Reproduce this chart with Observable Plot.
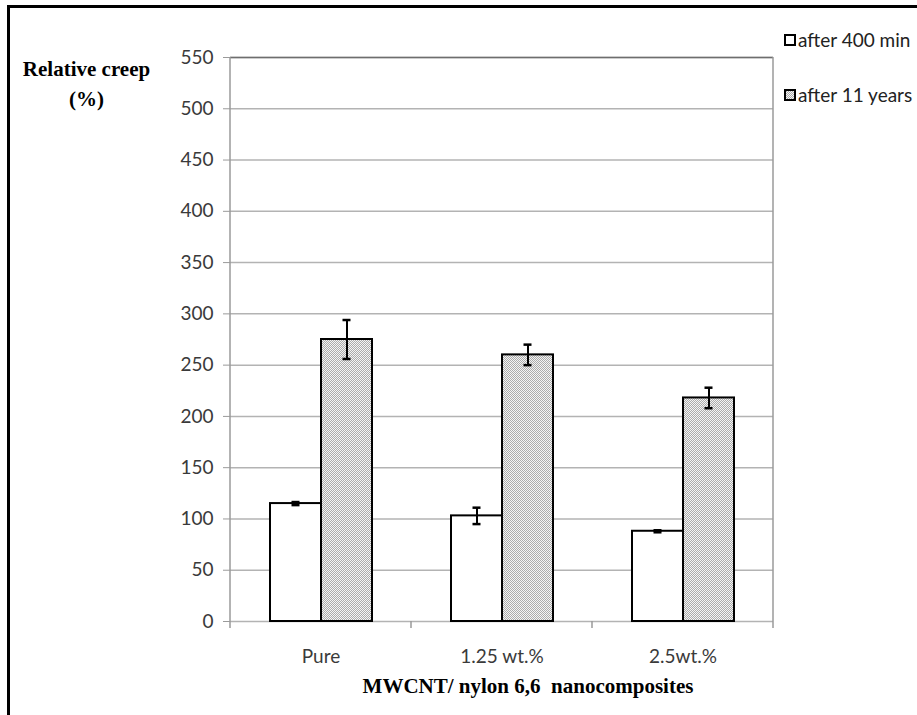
<!DOCTYPE html>
<html><head><meta charset="utf-8">
<script src="https://cdn.jsdelivr.net/npm/d3@7"></script>
<script src="https://cdn.jsdelivr.net/npm/@observablehq/plot@0.6"></script>
<style>
html,body{margin:0;padding:0;background:#fff;}
#wrap{position:relative;width:917px;height:715px;overflow:hidden;background:#fff;}
#frame{position:absolute;left:7px;top:5px;right:-10px;bottom:-10px;border-top:3px solid #000;border-left:3px solid #000;pointer-events:none;}
#chart{position:absolute;left:0;top:0;}
.serif{position:absolute;font-family:"Liberation Serif","Times New Roman",serif;font-weight:bold;color:#000;white-space:pre;}
.leg{position:absolute;font-family:Lato,"Open Sans",sans-serif;font-size:19px;color:#222;white-space:pre;display:flex;align-items:center;line-height:22px;}
.leg svg{margin-right:2px;}
#chart svg [aria-label="y-axis tick"] path,#chart svg [aria-label="y-axis"] line{stroke:#9a9a9a;}
</style>
</head><body>
<div id="wrap">
  <div id="chart"></div>
  <div id="frame"></div>
  <div class="serif" id="ytitle" style="left:0;width:173px;top:54px;font-size:21px;line-height:30px;text-align:center;">Relative creep
(%)</div>
  <div class="serif" id="xtitle" style="left:528px;top:674px;font-size:21px;transform:translateX(-50%);">MWCNT/ nylon 6,6  nanocomposites</div>
  <div id="legend"></div>
</div>
<script>
// ---- data ----
const groups = ["Pure", "1.25 wt.%", "2.5wt.%"];
const series = ["after 400 min", "after 11 years"];
const after400 = [115, 103, 88];
const err400 = [1.5, 8, 1];
const after11y = [275, 260, 218];
const err11y = [19, 10, 10];
const yTicks = [0, 50, 100, 150, 200, 250, 300, 350, 400, 450, 500, 550];

const rows = [];
groups.forEach((g, i) => {
  rows.push({group: g, series: series[0], value: after400[i], err: err400[i]});
  rows.push({group: g, series: series[1], value: after11y[i], err: err11y[i]});
});

const plot = Plot.plot({
  width: 917, height: 715,
  marginLeft: 229, marginRight: 143, marginTop: 57, marginBottom: 94,
  style: {fontFamily: "Lato, 'Open Sans', sans-serif", fontSize: "19px", color: "#3a3a3a", background: "transparent", overflow: "visible"},
  facet: {data: rows, x: "group"},
  fx: {domain: groups, padding: 0, label: null, tickSize: 0, tickPadding: 28},
  x: {domain: series, paddingInner: 0, paddingOuter: 0.747, axis: null},
  y: {domain: [0, 550], ticks: yTicks, tickSize: 7, tickPadding: 10, label: null},
  color: {type: "ordinal", domain: series, range: ["#ffffff", "url(#dots)"]},
  marks: [
    Plot.ruleY(yTicks, {stroke: "#b3b3b3", strokeWidth: 1.5}),
    Plot.ruleY([550], {stroke: "#6e6e6e", strokeWidth: 1.5}),
    Plot.barY(rows, {x: "series", y: "value", fill: "series", stroke: "#000", strokeWidth: 2}),
    Plot.ruleX(rows, {x: "series", y1: d => d.value - d.err, y2: d => d.value + d.err, stroke: "#000", strokeWidth: 2}),
    Plot.tickY(rows, {x: "series", y: d => d.value + d.err, stroke: "#000", strokeWidth: 2.5, insetLeft: 21.5, insetRight: 21.5}),
    Plot.tickY(rows, {x: "series", y: d => d.value - d.err, stroke: "#000", strokeWidth: 2.5, insetLeft: 21.5, insetRight: 21.5})
  ]
});
document.getElementById("chart").appendChild(plot);

// pattern for the "after 11 years" bars
const svg = d3.select(plot);
const defs = svg.insert("defs", ":first-child");
const pat = defs.append("pattern").attr("id", "dots").attr("width", 2).attr("height", 2).attr("patternUnits", "userSpaceOnUse");
pat.append("rect").attr("width", 2).attr("height", 2).attr("fill", "#f4f4f4");
pat.append("rect").attr("x", 0).attr("y", 0).attr("width", 1).attr("height", 1).attr("fill", "#ababab");
pat.append("rect").attr("x", 1).attr("y", 1).attr("width", 1).attr("height", 1).attr("fill", "#ababab");

// plot-area side lines and group boundary ticks, from the scales
const fx = plot.scale("fx"), y = plot.scale("y");
const bw = fx.bandwidth != null ? fx.bandwidth : (fx.range[1] - fx.range[0]) / groups.length;
const starts = groups.map(g => fx.apply(g));
const bounds = [...starts, starts[starts.length - 1] + bw];
const y0 = y.apply(0), yTop = y.apply(550);
const gl = svg.append("g");
bounds.forEach((bx, i) => {
  const outer = i === 0 || i === bounds.length - 1;
  gl.append("line").attr("x1", bx).attr("x2", bx)
    .attr("y1", outer ? yTop : y0).attr("y2", y0 + 7)
    .attr("stroke", "#9a9a9a").attr("stroke-width", 1.5);
});

// legend
const legend = document.getElementById("legend");
const legTops = [29, 84];
series.forEach((s, i) => {
  const d = document.createElement("div");
  d.className = "leg";
  d.style.left = "784px";
  d.style.top = legTops[i] + "px";
  d.innerHTML = `<svg width="12" height="12"><rect x="1" y="1" width="10" height="10" fill="${i === 0 ? "#fff" : "url(#dots)"}" stroke="#000" stroke-width="2"/></svg>${s}`;
  legend.appendChild(d);
});
</script>
</body></html>
